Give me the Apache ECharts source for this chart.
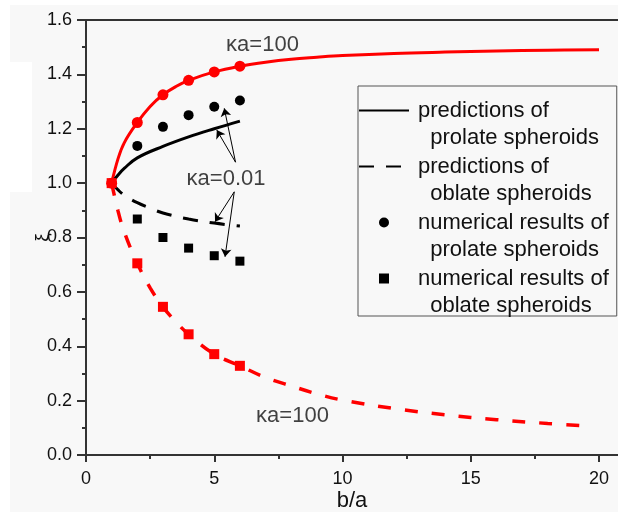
<!DOCTYPE html>
<html>
<head>
<meta charset="utf-8">
<script src="https://cdn.jsdelivr.net/npm/echarts@6/dist/echarts.min.js"></script>
<style>
html,body{margin:0;padding:0;background:#ffffff;}
#chart{width:618px;height:512px;}
</style>
</head>
<body>
<div id="chart"></div>
<script>
// ---- data ----
// κa = 100, prolate prediction (solid red)
const redSolidX = [1, 1.25, 1.5, 2, 2.5, 3, 3.5, 4, 5, 6, 7, 8, 9, 10, 12, 14, 16, 18, 20];
const redSolidY = [1.0, 1.09, 1.15, 1.223, 1.282, 1.325, 1.355, 1.378, 1.409, 1.43, 1.445, 1.456, 1.463, 1.469, 1.477, 1.482, 1.486, 1.489, 1.491];
// κa = 100, oblate prediction (dashed red)
const redDashX = [1, 1.25, 1.5, 2, 2.5, 3, 3.5, 4, 5, 6, 7, 8, 9, 10, 12, 14, 16, 18, 19.4];
const redDashY = [1.0, 0.897, 0.818, 0.705, 0.615, 0.545, 0.49, 0.444, 0.371, 0.328, 0.285, 0.254, 0.225, 0.202, 0.171, 0.148, 0.130, 0.116, 0.108];
// κa = 100, numerical results
const numX = [1, 2, 3, 4, 5, 6];
const redCircleY = [1.0, 1.223, 1.325, 1.378, 1.409, 1.43];
const redSquareY = [1.0, 0.705, 0.545, 0.444, 0.371, 0.328];
// κa = 0.01, predictions
const blackSolidX = [1, 1.25, 1.5, 2, 3, 4, 5, 6];
const blackSolidY = [1.0, 1.03, 1.055, 1.093, 1.135, 1.17, 1.2, 1.228];
const blackDashX = [1, 1.25, 1.5, 2, 2.5, 3, 4, 5, 6];
const blackDashY = [1.0, 0.975, 0.955, 0.928, 0.908, 0.89, 0.868, 0.853, 0.842];
// κa = 0.01, numerical results
const blackNumX = [2, 3, 4, 5, 6];
const blackCircleY = [1.137, 1.207, 1.25, 1.281, 1.304];
const blackSquareY = [0.868, 0.80, 0.761, 0.733, 0.713];

// axes
const xTicks = [0, 5, 10, 15, 20];
const xMinorTicks = [2.5, 7.5, 12.5, 17.5];
const yTickStep = 0.2;

// legend names
const legendNames = [
  'predictions of\n  prolate spheroids',
  'predictions of\n  oblate spheroids',
  'numerical results of\n  prolate spheroids',
  'numerical results of\n  oblate spheroids'
];

// annotations
const annoText = ['κa=100', 'κa=0.01', 'κa=100'];
const annoX = [6.88, 5.46, 8.05];
const annoY = [1.508, 1.015, 0.145];
const arrowFromX = [5.83, 5.83, 5.78, 5.78];
const arrowFromY = [1.077, 1.077, 0.968, 0.968];
const arrowToX = [5.39, 5.10, 5.03, 5.42];
const arrowToY = [1.275, 1.195, 0.858, 0.729];

// ---- chart ----
const FONT = 'Liberation Sans, Arial, sans-serif';
const AX = '#333333';
const zip = (xs, ys) => xs.map((x, i) => [x, ys[i]]);

const chart = echarts.init(document.getElementById('chart'), null, {renderer: 'canvas'});
const option = {
  animation: false,
  backgroundColor: '#f8f8f8',
  textStyle: {fontFamily: FONT},
  graphic: [
    {type: 'rect', z: -10, silent: true, shape: {x: 0, y: 0, width: 10, height: 512}, style: {fill: '#ffffff'}},
    {type: 'rect', z: -10, silent: true, shape: {x: 0, y: 0, width: 618, height: 5}, style: {fill: '#ffffff'}},
    {type: 'rect', z: -10, silent: true, shape: {x: 10, y: 62, width: 22, height: 130}, style: {fill: '#ffffff'}}
  ],
  grid: {left: 86, top: 20, right: 0, bottom: 57, containLabel: false, outerBoundsMode: 'none'},
  xAxis: [
    {
      type: 'value', position: 'bottom', min: 0, max: 20.74,
      name: 'b/a', nameLocation: 'middle', nameGap: 35, nameMoveOverlap: false,
      nameTextStyle: {fontSize: 22, color: '#111', fontFamily: FONT},
      axisLine: {show: true, lineStyle: {color: AX, width: 2}},
      axisTick: {show: true, customValues: xTicks, length: 7, lineStyle: {color: AX, width: 2}},
      axisLabel: {show: true, customValues: xTicks, margin: 15, fontSize: 18, color: '#111', fontFamily: FONT},
      splitLine: {show: false}
    },
    {
      type: 'value', position: 'bottom', min: 0, max: 20.74,
      axisLine: {show: false},
      axisTick: {show: true, customValues: xMinorTicks, length: 4, lineStyle: {color: AX, width: 2}},
      axisLabel: {show: false},
      splitLine: {show: false}
    },
    {
      type: 'value', position: 'top', min: 0, max: 20.74,
      axisLine: {show: true, lineStyle: {color: AX, width: 2}},
      axisTick: {show: false}, axisLabel: {show: false}, splitLine: {show: false}
    }
  ],
  yAxis: {
    type: 'value', position: 'left', min: 0, max: 1.6, interval: yTickStep,
    name: 'ξ', nameLocation: 'middle', nameGap: 34, nameMoveOverlap: false,
    nameTextStyle: {fontSize: 19, color: '#111', fontFamily: FONT},
    axisLine: {show: true, lineStyle: {color: AX, width: 2}},
    axisTick: {show: true, length: 9, lineStyle: {color: AX, width: 2}},
    minorTick: {show: true, splitNumber: 2, length: 4, lineStyle: {color: AX, width: 2}},
    axisLabel: {margin: 14, fontSize: 18, color: '#111', fontFamily: FONT, formatter: v => v.toFixed(1)},
    splitLine: {show: false}, minorSplitLine: {show: false}
  },
  legend: {
    orient: 'vertical', left: 358, top: 86,
    padding: [-16, 8, -3, 0],
    itemWidth: 50, itemHeight: 10, itemGap: -25,
    selectedMode: false,
    symbolKeepAspect: true,
    borderColor: '#555555', borderWidth: 1,
    formatter: name => '\n' + name,
    textStyle: {fontSize: 22, lineHeight: 27, color: '#111', fontFamily: FONT, padding: [0, 0, 0, 4]},
    data: [
      {name: legendNames[0], itemStyle: {opacity: 0}},
      {name: legendNames[1], itemStyle: {opacity: 0}},
      {name: legendNames[2]},
      {name: legendNames[3], icon: 'path://M0 0H9V9H0Z'}
    ]
  },
  series: [
    {
      name: 'κa=100 prolate prediction', type: 'line', data: zip(redSolidX, redSolidY),
      smooth: 0.4, showSymbol: false, symbol: 'none',
      lineStyle: {color: '#ff0000', width: 3}, itemStyle: {color: '#ff0000'}, z: 3
    },
    {
      name: 'κa=100 oblate prediction', type: 'line', data: zip(redDashX, redDashY),
      smooth: 0.4, showSymbol: false, symbol: 'none',
      lineStyle: {color: '#ff0000', width: 3.5, type: [13, 14]}, itemStyle: {color: '#ff0000'}, z: 3
    },
    {
      name: legendNames[0], type: 'line', data: zip(blackSolidX, blackSolidY),
      smooth: 0.4, showSymbol: false, symbol: 'none',
      lineStyle: {color: '#000000', width: 3}, itemStyle: {color: '#000000'}, z: 3
    },
    {
      name: legendNames[1], type: 'line', data: zip(blackDashX, blackDashY),
      smooth: 0.4, showSymbol: false, symbol: 'none',
      lineStyle: {color: '#000000', width: 3, type: [15, 12]}, itemStyle: {color: '#000000'}, z: 3
    },
    {
      name: 'κa=100 prolate numerical', type: 'scatter', data: zip(numX, redCircleY),
      symbol: 'circle', symbolSize: 11, itemStyle: {color: '#ff0000', opacity: 1}, z: 4
    },
    {
      name: 'κa=100 oblate numerical', type: 'scatter', data: zip(numX, redSquareY),
      symbol: 'rect', symbolSize: 10, itemStyle: {color: '#ff0000', opacity: 1}, z: 5
    },
    {
      name: legendNames[2], type: 'scatter', data: zip(blackNumX, blackCircleY),
      symbol: 'circle', symbolSize: 10, itemStyle: {color: '#000000', opacity: 1}, z: 4
    },
    {
      name: legendNames[3], type: 'scatter', data: zip(blackNumX, blackSquareY),
      symbol: 'rect', symbolSize: 9, itemStyle: {color: '#000000', opacity: 1}, z: 4
    },
    {
      name: 'annotations', type: 'scatter', silent: true, z: 6,
      data: annoText.map((t, i) => ({value: [annoX[i], annoY[i]], name: t})),
      symbolSize: 1, itemStyle: {color: 'rgba(0,0,0,0)'},
      label: {show: true, position: 'inside', formatter: p => p.name, fontSize: 22, color: '#111', fontFamily: FONT},
      markLine: {
        silent: true, animation: false,
        symbol: ['none', 'arrow'], symbolSize: 8,
        lineStyle: {color: '#000000', width: 1, type: 'solid'},
        label: {show: false},
        emphasis: {disabled: true},
        data: arrowFromX.map((x, i) => [{coord: [x, arrowFromY[i]]}, {coord: [arrowToX[i], arrowToY[i]]}])
      }
    }
  ]
};
chart.setOption(option);
</script>
</body>
</html>
